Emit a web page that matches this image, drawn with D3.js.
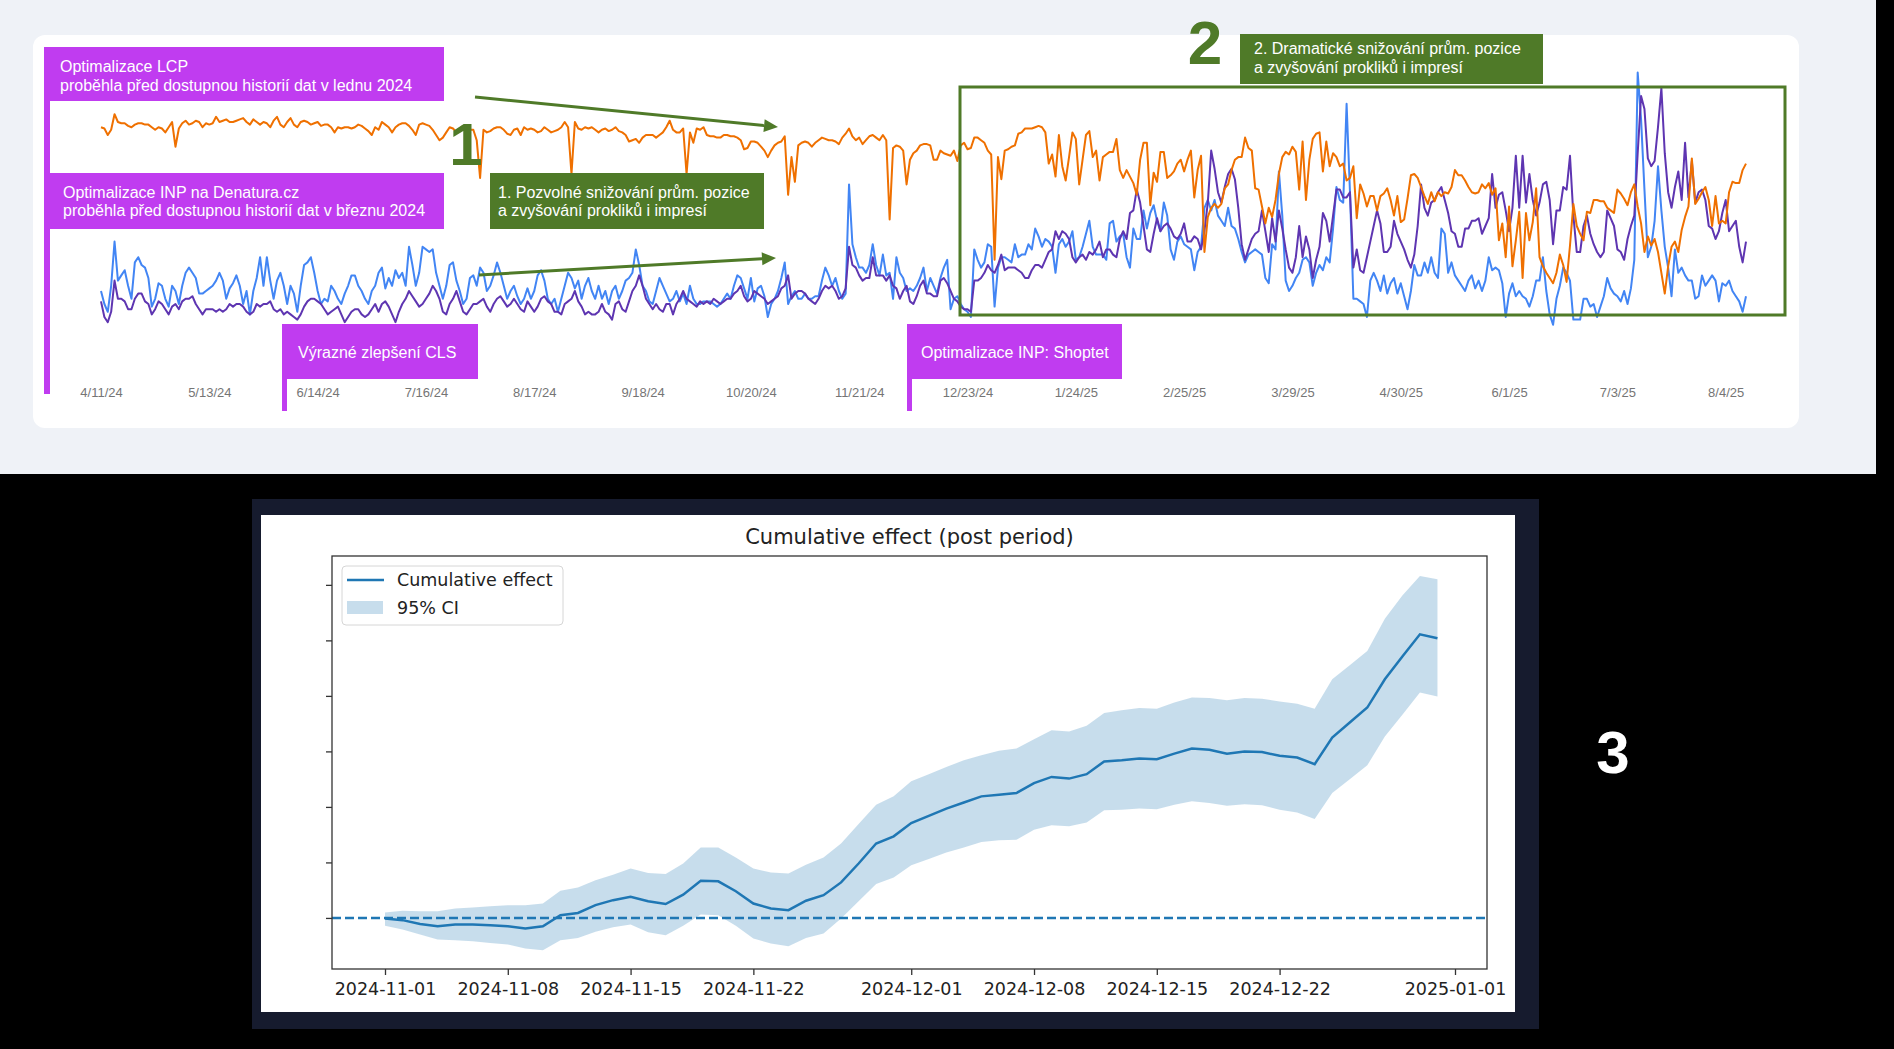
<!DOCTYPE html>
<html>
<head>
<meta charset="utf-8">
<script src="https://cdn.jsdelivr.net/npm/d3@7"></script>
<style>
body { margin: 0; background: #000; }
svg { display: block; }
</style>
</head>
<body>
<script>
// ---------- data: Search Console export (index units per series) ----------
var gscStart = "2024-04-11";
var gscTicks = ["4/11/24", "5/13/24", "6/14/24", "7/16/24", "8/17/24", "9/18/24", "10/20/24", "11/21/24",
	"12/23/24", "1/24/25", "2/25/25", "3/29/25", "4/30/25", "6/1/25", "7/3/25", "8/4/25"];

var clicks = [
	15,10,7,17,34,19,21,23,17,12, 26,28,25,24,20,9,12,18,17,12, 9,17,15,10,17,22,24,22,20,14,
	14,15,16,17,19,22,19,12,16,18, 21,17,10,15,6,15,20,28,17,28, 19,12,19,22,17,10,17,14,7,17,
	25,26,28,22,15,10,12,11,17,15, 12,10,14,17,21,21,17,15,12,10, 15,17,
	22,24,16,20,17,23,20,22,17,32, 25,17,22,32,31,30,31,22,17,12, 17,25,26,19,15,10,12,20,21,17,
	24,22,15,17,21,26,22,17,12,15, 17,13,10,12,16,12,15,21,23,19, 12,10,12,7,12,17,22,20,16,19,
	12,17,20,15,12,17,12,15,10,15, 17,12,15,19,20,22,31,25,17,15, 11,
	10,15,20,17,14,11,12,15,11,14, 10,17,12,10,10,11,11,11,10,9, 10,12,14,12,17,21,20,16,12,20,
	11,16,17,13,5,10,12,15,20,26, 10,13,15,12,12,14,12,12,13,13, 19,24,21,17,20,15,12,14,56,33,
	28,24,24,22,25,33,25,21,29,21, 22,12,28,22,20,15,16,15,17,20, 24,
	15,20,17,14,20,24,27,8,12,13, 10,8,7,5,31,27,24,26,33,32, 9,24,28,28,27,26,33,28,29,29,
	33,31,39,36,32,35,34,32,22,33, 35,32,34,38,27,28,32,37,42,32, 29,29,29,27,41,42,34,36,37,28,
	24,39,35,35,46,39,45,48,42,38, 49,44,31,27,34,36,33,32,31,23, 30,32,
	47,50,46,50,44,42,40,47,40,39, 35,30,26,29,30,31,30,29,20,18, 33,31,61,44,19,15,17,20,22,27,
	28,26,17,22,25,23,28,26,39,55, 50,49,87,53,12,12,11,10,5,19, 22,19,15,21,14,18,20,14,18,13,
	8,15,25,21,21,26,22,28,22,20, 39,37,22,26,21,19,17,15,19,21,
	16,19,15,19,28,23,24,23,18,5, 14,18,13,15,13,12,9,13,19,19, 28,15,6,2,12,17,24,22,19,4,
	4,4,12,12,9,10,5,9,13,20, 16,14,13,11,15,10,16,27,99,81, 54,28,32,42,63,46,32,24,13,31,
	22,24,21,19,19,12,13,21,17,19, 21,19,11,18,17,19,15,13,11,7, 13
];

var impressions = [
	11,5,3,7,19,12,12,11,8,8, 12,14,14,11,10,6,8,11,10,8, 6,9,10,8,11,12,12,13,10,8,
	6,8,8,8,7,8,7,8,10,9, 10,10,9,7,6,7,10,9,10,10, 11,8,7,8,6,7,6,5,4,6,
	9,11,12,12,11,10,8,6,7,8, 9,6,3,5,7,8,8,6,5,6, 8,10,
	7,10,11,9,6,3,7,10,12,15, 13,11,9,10,12,14,17,15,12,7, 6,10,12,15,11,7,6,8,10,10,
	11,12,9,7,10,12,13,11,9,10, 12,10,8,7,11,9,7,9,12,13, 11,10,7,7,6,10,11,12,15,11,
	9,6,7,6,6,7,10,7,6,4, 10,11,8,7,11,15,17,21,17,12, 10,
	8,10,8,7,10,10,6,10,12,15, 12,11,10,9,11,10,11,10,12,11, 10,11,12,12,14,15,17,13,11,12,
	15,14,13,12,10,11,12,13,16,17, 21,12,14,15,15,14,12,11,10,12, 15,17,16,17,15,12,13,16,32,25,
	24,21,19,20,20,28,21,21,21,19, 21,17,16,12,15,17,11,10,13,17, 19,
	14,14,13,13,19,20,18,15,12,11, 9,8,8,7,19,19,20,22,25,23, 22,25,29,23,24,24,24,23,22,20,
	20,23,25,25,24,27,30,31,38,35, 38,37,35,28,26,28,29,27,30,29, 31,34,28,31,31,29,28,35,38,35,
	45,46,54,49,40,31,30,37,43,38, 40,41,39,36,35,37,41,34,34,36, 35,31,
	38,49,69,62,53,49,55,60,62,58, 47,33,27,31,35,37,38,46,38,30, 43,34,46,39,31,24,22,28,40,28,
	36,31,20,27,32,45,42,34,44,54, 54,51,51,53,24,31,23,22,28,34, 40,46,41,30,30,32,42,37,34,31,
	27,24,29,40,56,47,44,49,50,53, 55,50,45,38,37,32,32,39,39,42,
	42,43,37,40,43,60,47,52,53,46, 38,47,67,47,67,49,60,50,44,49, 56,57,50,33,46,46,55,54,67,44,
	30,30,40,44,37,33,30,28,30,46, 43,40,31,30,27,35,40,44,68,90, 85,66,63,65,78,93,68,53,47,55,
	61,50,72,51,65,49,53,54,50,40, 39,35,38,45,50,38,40,42,32,26, 34
];

// average position, plotted inverted (higher = better)
var position = [
	78,77.5,75,77,83,80,79.5,79.5,78.5,78, 79,79.5,79.5,79,79,78,77,78,77.5,76,
	78,80,70.5,77.5,79.5,80.5,79,79.5,80.5,80, 78,79.5,79,79.5,82,80,80.5,81,80,80,
	80.5,81,81.5,80,79,81,80,79,80,79.5, 78,80.5,82,79,78,80,81.5,79,78,80,
	80.5,80,79,79.5,80,78.5,79,79,78,76, 78,77.5,78,78,77.5,78,79,78.5,77.5,76.5,
	75,78, 77,80,79,78,76,78,79,79.5,
	79.5,78.5,77,75,79,79.5,79,78.5,77,75, 73,74,76,78,77.5,76,77.5,78.5,78,77,
	77,73,58.5,77,76,76.5,77.5,78,78,77, 75.5,75,77,77.5,75,78,77,77.5,77,76,
	76.5,78,77,76,76.5,77,78,80,78,60, 80,77.5,77,78,77.5,78,77,76,77,77.5,
	76.5,77,78,76.5,76,75,72.5,73,73.5,72, 74,75,75,
	75,74,75,76,78,80.5,77,76,76,77.5, 60,76,72,77.5,77,78,75,74.5,74.5,74,
	74,75,75,74.5,74.5,74,73,69.5,70,72.5, 72.5,72,70.5,69,66.5,69,71,72,72.5,74.5,
	52,66.5,57,71,72,72.5,72,70.5,72,73, 74,73.5,73,73,72.5,71.5,74,75.5,77.5,74.5,
	73,74,71.5,73,74.5,75,74,73,75,73, 42.5,70,71,70.5,69,56,65.5,68,69,
	71,71.5,
	71.5,71,65.5,65.5,69,68,67.5,67,69,65, 71,72,69.5,70,74,74,73,72,69,67.5,
	27,66.5,58,69,69.5,70.5,71,75.5,76,77.5, 77.5,77.5,78,78.5,78,76,64,67.5,59,75,
	63,57.5,66.5,76,73.5,56,65.5,75,76.5,66.5, 69,57.5,66.5,67.5,68.5,68.5,73.5,61.5,58.5,61.5,
	59,56.5,52,65.5,72,72,48,60.5,57,68.5, 68.5,58.5,59.5,61,64,65.5,61,65.5,69,51,
	61.5,67,
	30,43.5,47,48.5,47,48.5,54.5,56,61.5,65.5, 66.5,66.5,74,70,69,54.5,54,47.5,41,47,
	43.5,50,60,66.5,68.5,67.5,70.5,68.5,54,72.5, 50,65.5,73.5,75.5,76,61,72.5,63,68,66.5,
	63,64,57.5,58.5,63,43,56,52.5,47.5,51.5, 51.5,46,51.5,52.5,54.5,50,44,51.5,41.5,42.5,
	50.5,59.5,60,58.5,55,51.5,48.5,53,49.5,53, 51.5,53,52.5,55,61.5,59.5,59.5,57.5,55,53,
	52.5,53,56,54.5,56.5,52,54.5,34.5,41,28, 47.5,24.5,34.5,45.5,20,45,34.5,41.5,54.5,28,
	24.5,22,20,18,22,29,25,18.5,32.5,48.5, 40,37,34.5,45.5,45,50,50,49.5,49.5,47,
	46,45,54,52.5,50.5,48,53,56,47.5,41, 30,36,32.5,35,30,22,14,24.5,32,34,
	30,38.5,43.5,47.5,66,48.5,50.5,53,55,50, 40,51.5,41,42,41,53,57,56.5,56.5,61.5,64
];

// ---------- data: causal impact, cumulative effect ----------
var ciStart = "2024-11-01";
var ciTicks = ["2024-11-01", "2024-11-08", "2024-11-15", "2024-11-22", "2024-12-01",
	"2024-12-08", "2024-12-15", "2024-12-22", "2025-01-01"];
var yTicks = [0, 1, 2, 3, 4, 5, 6];

var cumEffect = [
	-0.01,-0.04,-0.11,-0.15,-0.12,-0.12,-0.13,-0.15,-0.19,-0.15,
	0.05,0.09,0.23,0.32,0.38,0.30,0.25,0.42,0.67,0.66,
	0.48,0.26,0.17,0.14,0.31,0.41,0.64,0.98,1.34,1.47,
	1.71,1.84,1.97,2.08,2.19,2.22,2.25,2.43,2.54,2.51,
	2.59,2.82,2.84,2.87,2.86,2.96,3.05,3.03,2.96,3.00,
	2.99,2.92,2.89,2.77,3.25,3.52,3.79,4.30,4.71,5.11,
	5.04
];
var ciUpper = [
	0.10,0.13,0.12,0.12,0.17,0.19,0.21,0.23,0.23,0.26,
	0.49,0.55,0.68,0.78,0.89,0.81,0.79,0.98,1.27,1.27,
	1.09,0.89,0.82,0.80,0.96,1.09,1.34,1.69,2.04,2.19,
	2.46,2.59,2.72,2.84,2.93,3.01,3.05,3.22,3.38,3.36,
	3.46,3.69,3.74,3.78,3.77,3.88,3.97,3.96,3.92,3.96,
	3.95,3.90,3.86,3.77,4.30,4.55,4.81,5.39,5.81,6.16,
	6.10
];
var ciLower = [
	-0.14,-0.21,-0.30,-0.39,-0.40,-0.42,-0.45,-0.48,-0.55,-0.58,
	-0.40,-0.36,-0.25,-0.17,-0.12,-0.26,-0.31,-0.14,0.06,0.05,
	-0.14,-0.37,-0.46,-0.51,-0.36,-0.28,-0.01,0.30,0.61,0.73,
	0.95,1.06,1.18,1.27,1.37,1.40,1.41,1.59,1.67,1.65,
	1.72,1.94,1.95,1.97,1.96,2.04,2.10,2.07,2.02,2.05,
	2.03,1.95,1.90,1.78,2.25,2.50,2.75,3.27,3.66,4.06,
	3.99
];

// ---------- canvas ----------
var w = 1894, h = 1049;
var PURPLE = "#c03cf0", GREEN = "#4f7a28";
var svg = d3.select("body").append("svg")
	.attr("width", w)
	.attr("height", h);

svg.append("rect").attr("x", 0).attr("y", 0).attr("width", w).attr("height", h).attr("fill", "#000");

// ================= top: search console chart =================
svg.append("rect")
	.attr("x", 0).attr("y", 0)
	.attr("width", 1876).attr("height", 474)
	.attr("fill", "#eff2f7");
svg.append("rect")
	.attr("x", 33).attr("y", 35)
	.attr("width", 1766).attr("height", 393)
	.attr("rx", 12)
	.attr("fill", "#fff");

var parseDay = d3.utcParse("%Y-%m-%d");
var t0 = parseDay(gscStart);
var days = d3.range(clicks.length).map(function(i) { return d3.utcDay.offset(t0, i); });

var xTop = d3.scaleUtc()
	.domain([t0, days[days.length - 1]])
	.range([101, 1746]);
var yTop = d3.scaleLinear()
	.domain([0, 100])
	.range([330, 70]);

var series = [
	{ values: clicks, color: "#4285f4" },
	{ values: impressions, color: "#5e35b1" },
	{ values: position, color: "#ef7000" }
];
series.forEach(function(s) {
	var line = d3.line()
		.x(function(d, i) { return xTop(days[i]); })
		.y(function(d) { return yTop(d); });
	svg.append("path")
		.datum(s.values)
		.attr("d", line)
		.attr("fill", "none")
		.attr("stroke", s.color)
		.attr("stroke-width", 2)
		.attr("stroke-linejoin", "round");
});

var parseTick = d3.utcParse("%m/%d/%y");
var topAxis = svg.append("g")
	.attr("transform", "translate(0,380)")
	.call(d3.axisBottom(xTop)
		.tickValues(gscTicks.map(function(t) { return parseTick(t); }))
		.tickFormat(d3.utcFormat("%-m/%-d/%y"))
		.tickSize(0)
		.tickPadding(8));
topAxis.select(".domain").remove();
topAxis.selectAll("text")
	.attr("fill", "#757575")
	.style("font-family", "'Liberation Sans', Arial, sans-serif")
	.style("font-size", "13px");

// annotation helpers
function note(x, y, bw, bh, fill, lines, tx, base) {
	svg.append("rect")
		.attr("x", x).attr("y", y)
		.attr("width", bw).attr("height", bh)
		.attr("fill", fill);
	lines.forEach(function(t, i) {
		svg.append("text")
			.attr("x", tx)
			.attr("y", base[i])
			.attr("fill", "#fff")
			.style("font-family", "'Liberation Sans', Arial, sans-serif")
			.style("font-size", "16px")
			.text(t);
	});
}
function stem(x, y1, y2, sw) {
	svg.append("rect")
		.attr("x", x).attr("y", y1)
		.attr("width", sw).attr("height", y2 - y1)
		.attr("fill", PURPLE);
}
function arrow(x1, y1, x2, y2) {
	var a = Math.atan2(y2 - y1, x2 - x1), len = 14, half = 6.5;
	var bx = x2 - len * Math.cos(a), by = y2 - len * Math.sin(a);
	svg.append("line")
		.attr("x1", x1).attr("y1", y1)
		.attr("x2", bx).attr("y2", by)
		.attr("stroke", GREEN)
		.attr("stroke-width", 3);
	svg.append("path")
		.attr("d", "M" + x2 + "," + y2 +
			"L" + (bx + half * Math.sin(a)) + "," + (by - half * Math.cos(a)) +
			"L" + (bx - half * Math.sin(a)) + "," + (by + half * Math.cos(a)) + "Z")
		.attr("fill", GREEN);
}
function bigNum(t, x, y, size, color) {
	svg.append("text")
		.attr("x", x).attr("y", y)
		.attr("text-anchor", "middle")
		.attr("fill", color)
		.style("font-family", "'Liberation Sans', Arial, sans-serif")
		.style("font-weight", "bold")
		.style("font-size", size + "px")
		.text(t);
}

// purple milestones
note(44, 47, 400, 54, PURPLE,
	["Optimalizace LCP", "proběhla před dostupnou historií dat v lednu 2024"], 60, [72, 91]);
note(50, 173, 394, 56, PURPLE,
	["Optimalizace INP na Denatura.cz", "proběhla před dostupnou historií dat v březnu 2024"], 63, [197.5, 216]);
stem(44, 47, 394, 6);
note(282, 324, 196, 55, PURPLE, ["Výrazné zlepšení CLS"], 298, [357.5]);
stem(282, 324, 411, 5);
note(907, 324, 215, 55, PURPLE, ["Optimalizace INP: Shoptet"], 921, [357.5]);
stem(907, 324, 411, 5);

// green phases
note(490, 173, 274, 56, GREEN,
	["1. Pozvolné snižování prům. pozice", "a zvyšování prokliků i impresí"], 498, [197.5, 216]);
note(1240, 34, 303, 50, GREEN,
	["2. Dramatické snižování prům. pozice", "a zvyšování prokliků i impresí"], 1254, [53.5, 72.5]);
svg.append("rect")
	.attr("x", 960).attr("y", 87)
	.attr("width", 825).attr("height", 228)
	.attr("fill", "none")
	.attr("stroke", GREEN)
	.attr("stroke-width", 3);
arrow(475, 97, 778, 127);
arrow(479, 275, 776, 258);
bigNum("1", 466, 165, 60, GREEN);
bigNum("2", 1205, 64, 62, GREEN);

// ================= bottom: cumulative effect =================
svg.append("rect")
	.attr("x", 252).attr("y", 499)
	.attr("width", 1287).attr("height", 530)
	.attr("fill", "#161b2e");
svg.append("rect")
	.attr("x", 261).attr("y", 515)
	.attr("width", 1254).attr("height", 497)
	.attr("fill", "#fff");

var ax = { left: 332, right: 1487, top: 556, bottom: 969 };
var c0 = parseDay(ciStart);
var ciDays = d3.range(cumEffect.length).map(function(i) { return d3.utcDay.offset(c0, i); });

var xBot = d3.scaleUtc()
	.domain([parseDay("2024-11-01"), parseDay("2025-01-01")])
	.range([385, 1455]);
var yBot = d3.scaleLinear()
	.domain([-0.92, 6.52])
	.range([ax.bottom, ax.top]);

var band = d3.area()
	.x(function(d, i) { return xBot(ciDays[i]); })
	.y0(function(d, i) { return yBot(ciLower[i]); })
	.y1(function(d) { return yBot(d); });
svg.append("path")
	.datum(ciUpper)
	.attr("d", band)
	.attr("fill", "#1f77b4")
	.attr("fill-opacity", 0.25);

svg.append("line")
	.attr("x1", ax.left).attr("x2", ax.right)
	.attr("y1", yBot(0)).attr("y2", yBot(0))
	.attr("stroke", "#1f77b4")
	.attr("stroke-width", 2.5)
	.attr("stroke-dasharray", "9,4");

svg.append("path")
	.datum(cumEffect)
	.attr("d", d3.line()
		.x(function(d, i) { return xBot(ciDays[i]); })
		.y(function(d) { return yBot(d); }))
	.attr("fill", "none")
	.attr("stroke", "#1f77b4")
	.attr("stroke-width", 2.5);

svg.append("rect")
	.attr("x", ax.left).attr("y", ax.top)
	.attr("width", ax.right - ax.left).attr("height", ax.bottom - ax.top)
	.attr("fill", "none")
	.attr("stroke", "#333")
	.attr("stroke-width", 1.3);

var botAxis = svg.append("g")
	.attr("transform", "translate(0," + ax.bottom + ")")
	.call(d3.axisBottom(xBot)
		.tickValues(ciTicks.map(function(t) { return parseDay(t); }))
		.tickFormat(d3.utcFormat("%Y-%m-%d"))
		.tickSize(6)
		.tickPadding(8));
botAxis.select(".domain").remove();
botAxis.selectAll("line").attr("stroke", "#333").attr("stroke-width", 1.3);
botAxis.selectAll("text")
	.attr("fill", "#222")
	.style("font-family", "'DejaVu Sans', sans-serif")
	.style("font-size", "17.5px");

var leftAxis = svg.append("g")
	.attr("transform", "translate(" + ax.left + ",0)")
	.call(d3.axisLeft(yBot).tickValues(yTicks).tickSize(6).tickFormat(""));
leftAxis.select(".domain").remove();
leftAxis.selectAll("line").attr("stroke", "#333").attr("stroke-width", 1.3);

svg.append("text")
	.attr("x", (ax.left + ax.right) / 2)
	.attr("y", 544)
	.attr("text-anchor", "middle")
	.attr("fill", "#222")
	.style("font-family", "'DejaVu Sans', sans-serif")
	.style("font-size", "21px")
	.text("Cumulative effect (post period)");

// legend
svg.append("rect")
	.attr("x", 342).attr("y", 566)
	.attr("width", 221).attr("height", 59)
	.attr("rx", 4)
	.attr("fill", "#fff")
	.attr("stroke", "#d6d6d6");
svg.append("line")
	.attr("x1", 347).attr("x2", 384)
	.attr("y1", 580).attr("y2", 580)
	.attr("stroke", "#1f77b4")
	.attr("stroke-width", 2.5);
svg.append("rect")
	.attr("x", 347).attr("y", 601)
	.attr("width", 36).attr("height", 13)
	.attr("fill", "#1f77b4")
	.attr("fill-opacity", 0.25);
[["Cumulative effect", 586], ["95% CI", 614]].forEach(function(l) {
	svg.append("text")
		.attr("x", 397).attr("y", l[1])
		.attr("fill", "#222")
		.style("font-family", "'DejaVu Sans', sans-serif")
		.style("font-size", "17.5px")
		.text(l[0]);
});

bigNum("3", 1613, 773, 60, "#fff");
</script>
</body>
</html>
